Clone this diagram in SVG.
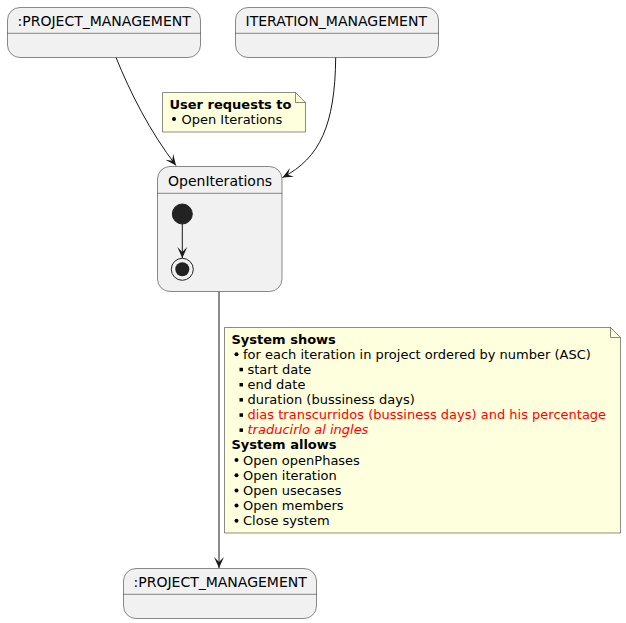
<svg xmlns="http://www.w3.org/2000/svg" width="626" height="623" viewBox="0 0 626 623">
<defs>
<style>
.st{fill:#F1F1F1;stroke:#181818;stroke-width:0.5}
.hd{stroke:#181818;stroke-width:0.5}
.nt{fill:#FEFFDD;stroke:#181818;stroke-width:0.5}
.fold{fill:none;stroke:#181818;stroke-width:0.5}
.lbl{font-family:"DejaVu Sans",sans-serif;font-size:14px;fill:#000000}
.ntx{font-family:"DejaVu Sans",sans-serif;font-size:13px;fill:#000000}
.b{font-weight:bold}
.red{fill:#FF0000}
.ln{fill:none;stroke:#181818;stroke-width:1}
.bul{fill:#000000}
</style>
<marker id="ah" viewBox="0 0 10 10" refX="10" refY="5" markerWidth="11" markerHeight="11" markerUnits="userSpaceOnUse" orient="auto">
<path d="M0,0.5 L10,5 L0,9.5 L4.5,5 Z" fill="#181818"/>
</marker>
</defs>

<g id="state_project_management_1">
<rect class="st" x="7.5" y="7.5" width="193" height="50" rx="12.5" ry="12.5"/>
<line class="hd" x1="7.5" y1="33.3" x2="200.5" y2="33.3"/>
<text class="lbl" x="17.5" y="25.5">:PROJECT_MANAGEMENT</text>
</g>

<g id="state_iteration_management">
<rect class="st" x="235.5" y="7.5" width="203" height="50" rx="12.5" ry="12.5"/>
<line class="hd" x1="235.5" y1="33.3" x2="438.5" y2="33.3"/>
<text class="lbl" x="245.5" y="25.5">ITERATION_MANAGEMENT</text>
</g>

<g id="note_user_requests">
<path class="nt" d="M162.5,92.5 L162.5,132 L305.5,132 L305.5,102.5 L295.5,92.5 Z"/>
<path class="fold" d="M295.5,92.5 L295.5,102.5 L305.5,102.5"/>
<text class="ntx b" x="169.5" y="108.5">User requests to</text>
<circle class="bul" cx="174" cy="119" r="2"/>
<text class="ntx" x="181.5" y="123.5">Open Iterations</text>
</g>

<g id="state_open_iterations">
<rect class="st" x="157.5" y="166.5" width="124.5" height="125" rx="12.5" ry="12.5"/>
<line class="hd" x1="157.5" y1="193.3" x2="282" y2="193.3"/>
<text class="lbl" x="168" y="186">OpenIterations</text>
<g id="initial">
<circle cx="182.3" cy="214" r="10" fill="#222222" stroke="#222222" stroke-width="1"/>
</g>
<g id="final">
<circle cx="182.3" cy="269.3" r="11" fill="none" stroke="#222222" stroke-width="1"/>
<circle cx="182.3" cy="269.3" r="7" fill="#222222"/>
</g>
</g>

<g id="note_system_shows">
<path class="nt" d="M224.5,327.5 L224.5,533 L620.5,533 L620.5,337.5 L610.5,327.5 Z"/>
<path class="fold" d="M610.5,327.5 L610.5,337.5 L620.5,337.5"/>
<text class="ntx b" x="231.5" y="343.5">System shows</text>
<circle class="bul" cx="236.5" cy="354.2" r="2"/>
<text class="ntx" x="243" y="358.6">for each iteration in project ordered by number (ASC)</text>
<rect class="bul" x="239.5" y="367.8" width="3.5" height="3.5"/>
<text class="ntx" x="247.5" y="373.8">start date</text>
<rect class="bul" x="239.5" y="383" width="3.5" height="3.5"/>
<text class="ntx" x="247.5" y="388.9">end date</text>
<rect class="bul" x="239.5" y="398.1" width="3.5" height="3.5"/>
<text class="ntx" x="247.5" y="404">duration (bussiness days)</text>
<rect class="bul" x="239.5" y="413.3" width="3.5" height="3.5"/>
<text class="ntx red" x="247.5" y="419.1">dias transcurridos (bussiness days) and his percentage</text>
<rect class="bul" x="239.5" y="428.4" width="3.5" height="3.5"/>
<text class="ntx red" x="247.5" y="434.3" font-style="italic">traducirlo al ingles</text>
<text class="ntx b" x="231.5" y="449.4">System allows</text>
<circle class="bul" cx="236.5" cy="460.1" r="2"/>
<text class="ntx" x="243" y="464.5">Open openPhases</text>
<circle class="bul" cx="236.5" cy="475.3" r="2"/>
<text class="ntx" x="243" y="479.7">Open iteration</text>
<circle class="bul" cx="236.5" cy="490.4" r="2"/>
<text class="ntx" x="243" y="494.8">Open usecases</text>
<circle class="bul" cx="236.5" cy="505.6" r="2"/>
<text class="ntx" x="243" y="510">Open members</text>
<circle class="bul" cx="236.5" cy="520.7" r="2"/>
<text class="ntx" x="243" y="525.1">Close system</text>
</g>

<g id="state_project_management_2">
<rect class="st" x="123.5" y="568.5" width="193" height="50" rx="12.5" ry="12.5"/>
<line class="hd" x1="123.5" y1="594.3" x2="316.5" y2="594.3"/>
<text class="lbl" x="133.5" y="586.5">:PROJECT_MANAGEMENT</text>
</g>

<g id="connectors">
<path class="ln" d="M116,57.5 C130,92 150,132 176,165.5" marker-end="url(#ah)"/>
<path class="ln" d="M335.7,57.5 C335,125 320,158 282.5,177.5" marker-end="url(#ah)"/>
<path class="ln" d="M182.3,224 L182.3,258" marker-end="url(#ah)"/>
<path class="ln" d="M219,292 L219,568" marker-end="url(#ah)"/>
</g>
</svg>
